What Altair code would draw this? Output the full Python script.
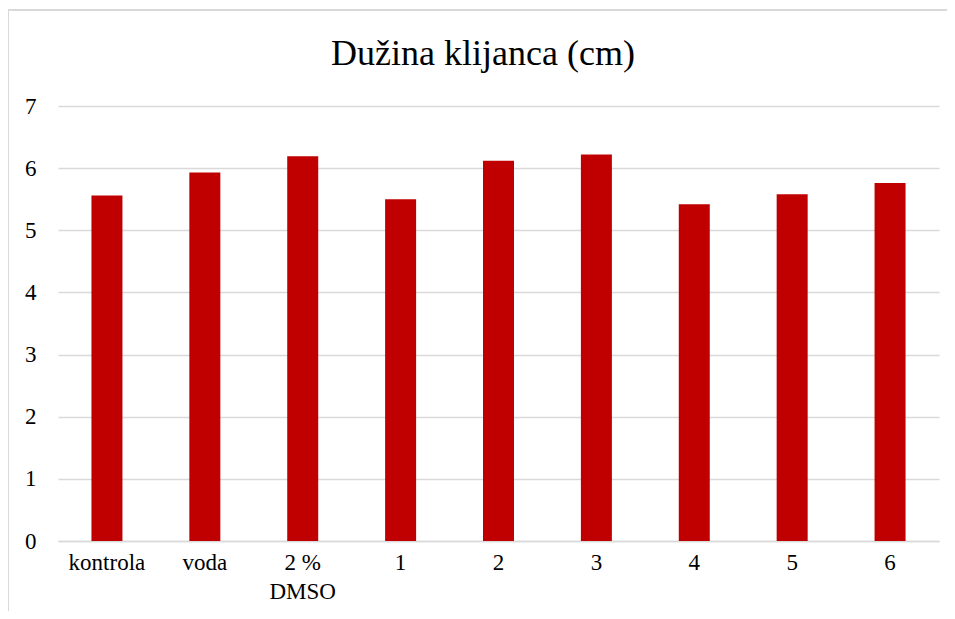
import altair as alt
import pandas as pd

categories = ["kontrola", "voda", "2 % DMSO", "1", "2", "3", "4", "5", "6"]
values = [5.56, 5.93, 6.19, 5.50, 6.12, 6.22, 5.42, 5.58, 5.76]
y_ticks = [0, 1, 2, 3, 4, 5, 6, 7]
title_text = ["Dužina klijanca (cm)"]

df = pd.DataFrame({"kat": categories, "val": values})
tdf = pd.DataFrame({"t": title_text})

FONT = "Liberation Serif"
W, H = 881, 435

bars = alt.Chart(df).mark_bar(size=31, color="#C00000").encode(
    x=alt.X("kat:N", sort=categories, title=None,
            scale=alt.Scale(paddingInner=0, paddingOuter=0),
            axis=alt.Axis(labelAngle=0, labelFont=FONT, labelFontSize=23,
                          labelColor="#000000", labelPadding=10,
                          labelLineHeight=29, ticks=False, grid=False,
                          domainColor="#d9d9d9", domainWidth=1.5,
                          labelExpr="datum.label == '2 % DMSO' ? ['2 %', 'DMSO'] : datum.label")),
    y=alt.Y("val:Q", title=None,
            scale=alt.Scale(domain=[0, 7], nice=False),
            axis=alt.Axis(values=y_ticks, labelFont=FONT, labelFontSize=23,
                          labelColor="#000000", labelPadding=22, ticks=False,
                          domain=False, grid=True, gridColor="#d9d9d9",
                          gridWidth=1.5)),
)

frame_left = alt.Chart(df).mark_rule(color="#d9d9d9", strokeWidth=1.5, clip=False).encode(
    x=alt.value(-50), y=alt.value(-96), y2=alt.value(H + 200))
frame_top = alt.Chart(df).mark_rule(color="#d9d9d9", strokeWidth=1.5, clip=False).encode(
    x=alt.value(-50), x2=alt.value(W + 200), y=alt.value(-96))

title = alt.Chart(tdf).mark_text(font=FONT, fontSize=36, color="#000000",
                                 align="center", baseline="alphabetic").encode(
    x=alt.value(425), y=alt.value(-41), text="t:N")

chart = alt.layer(frame_left, frame_top, title, bars).properties(
    width=W, height=H,
    autosize=alt.AutoSizeParams(type="none"),
    padding={"left": 50, "top": 98, "right": 8, "bottom": 70},
).configure(background="white").configure_view(strokeWidth=0, stroke="transparent")

chart.save("out.html", embed_options={"renderer": "svg", "actions": False})
